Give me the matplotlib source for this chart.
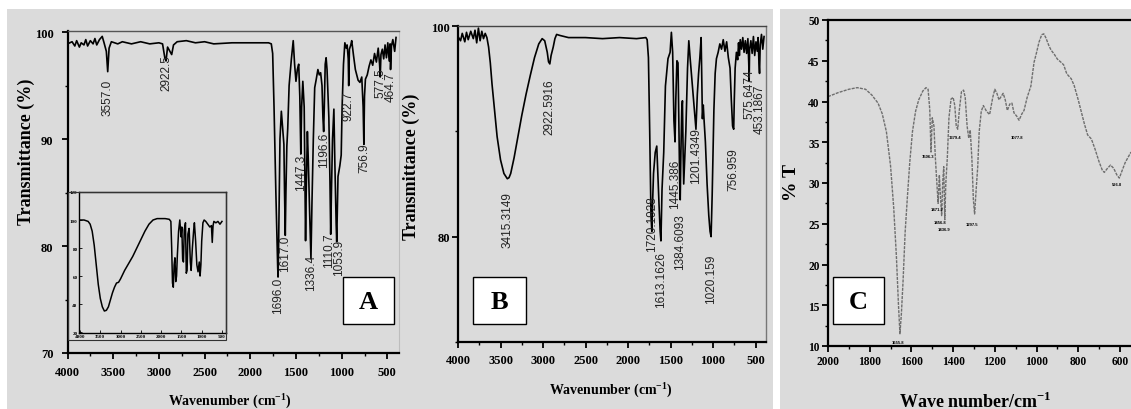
import matplotlib
matplotlib.use("Agg")
import matplotlib.pyplot as plt
from matplotlib.patches import Rectangle
from matplotlib.ticker import MultipleLocator

plt.rcParams['mathtext.fontset'] = 'custom'
plt.rcParams['mathtext.rm'] = 'Liberation Serif:bold'
plt.rcParams['mathtext.bf'] = 'Liberation Serif:bold'

# ---------------- data ----------------
# Panel A : main spectrum
a_wn = [4000, 3950, 3920, 3900, 3870, 3850, 3820, 3800, 3780, 3750, 3720, 3700, 3680, 3650, 3620,
        3600, 3575, 3560, 3545, 3520, 3450, 3400, 3300, 3200, 3100, 3000, 2960, 2935, 2922, 2905,
        2880, 2860, 2840, 2800, 2700, 2600, 2500, 2400, 2200, 2000, 1800, 1770, 1755, 1740, 1720,
        1700, 1696, 1690, 1675, 1660, 1645, 1632, 1625, 1617, 1610, 1600, 1590, 1575, 1550, 1530,
        1515, 1500, 1485, 1470, 1458, 1447, 1438, 1425, 1410, 1400, 1395, 1388, 1375, 1365, 1350,
        1336, 1325, 1310, 1295, 1280, 1260, 1245, 1230, 1215, 1205, 1197, 1190, 1180, 1170, 1160,
        1140, 1128, 1120, 1112, 1100, 1085, 1075, 1060, 1054, 1048, 1040, 1020, 1005, 995, 980,
        965, 950, 940, 928, 923, 915, 900, 890, 870, 850, 820, 800, 780, 765, 757, 750, 740, 720,
        700, 680, 660, 640, 620, 600, 585, 578, 570, 555, 540, 525, 510, 495, 480, 470, 465, 455,
        440, 420, 405]
a_t = [98.9, 99.1, 98.7, 99.2, 98.6, 99.0, 98.8, 99.3, 98.7, 99.2, 98.9, 99.4, 98.8, 99.3, 99.6,
       99.0, 98.2, 96.3, 98.5, 99.1, 98.9, 99.1, 98.9, 99.1, 98.9, 99.0, 98.9, 97.6, 97.3, 98.6,
       98.2, 97.9, 98.8, 99.1, 99.2, 99.0, 99.1, 98.9, 99.0, 99.0, 99.0, 98.9, 98.0, 93.0, 85.0,
       78.0, 77.1, 80.0, 90.0, 92.6, 91.0, 89.5, 85.0, 81.0, 85.0, 89.3, 91.0, 95.0, 97.5, 99.2,
       97.0, 95.4, 96.5, 97.0, 94.0, 88.6, 93.0, 95.4, 93.0, 85.0, 80.5, 85.0, 90.7, 88.0, 83.0,
       78.8, 84.0, 90.0, 94.8, 95.5, 96.5, 96.0, 96.2, 95.0, 92.0, 90.7, 93.0, 97.0, 97.6, 96.5,
       92.0, 86.0, 81.1, 85.0, 90.0, 92.8, 88.0, 82.0, 80.4, 83.0, 86.5, 87.5, 88.5, 93.0, 97.0,
       99.0, 98.5, 98.8, 97.5, 95.0, 98.4, 98.8, 99.2, 97.8, 96.5, 95.5, 95.3, 95.8, 93.0, 89.5,
       94.0, 95.6, 96.0, 96.8, 97.4, 96.9, 98.0, 97.2, 98.5, 97.0, 95.8, 97.9, 98.4, 97.5, 98.8,
       97.6, 99.0, 97.3, 98.9, 96.5, 98.7, 99.3, 98.2, 99.5]
a_labels = ["3557.0", "2922.5", "1696.0", "1617.0", "1447.3", "1336.4", "1196.6", "1110.7",
            "1053.9", "922.7", "756.9", "577.5", "464.7"]
a_label_wn = [3557.0, 2922.5, 1696.0, 1617.0, 1447.3, 1336.4, 1196.6, 1142.0,
              1030.0, 922.7, 756.9, 577.5, 464.7]
a_label_t = [95.6, 97.9, 77.1, 81.1, 88.6, 79.3, 90.7, 81.3, 80.7, 94.5, 89.7, 96.7, 96.3]

# Panel A : inset spectrum
in_wn = [4000, 3900, 3800, 3750, 3700, 3650, 3600, 3550, 3500, 3450, 3400, 3350, 3300, 3250, 3200,
         3150, 3100, 3050, 3000, 2950, 2900, 2800, 2700, 2600, 2500, 2400, 2300, 2200, 2100, 1900,
         1800, 1760, 1740, 1720, 1700, 1680, 1660, 1640, 1620, 1600, 1570, 1540, 1510, 1490, 1470,
         1450, 1430, 1400, 1380, 1360, 1340, 1310, 1280, 1260, 1230, 1200, 1180, 1150, 1120, 1090,
         1060, 1040, 1020, 1000, 970, 940, 900, 850, 800, 760, 740, 720, 700, 650, 600, 550, 500]
in_t = [100, 100, 99, 97, 92, 82, 68, 54, 44, 38, 35, 35.5, 38, 43, 48,
        52, 55, 55.5, 58, 61, 64, 69, 74, 80, 86, 92, 97, 100, 101, 101,
        100.5, 99, 80, 55, 52, 68, 73, 56, 60, 75, 92, 100, 88, 95, 72,
        70, 93, 98, 62, 64, 90, 94, 70, 64, 80, 92, 98, 85, 68, 63,
        70, 60, 68, 85, 98, 100, 99, 97, 95, 96, 84, 96, 99, 98, 99, 97, 99]

# Panel B
b_wn = [4000, 3970, 3950, 3920, 3900, 3880, 3850, 3820, 3800, 3780, 3760, 3740, 3720, 3700, 3680,
        3660, 3640, 3620, 3600, 3570, 3540, 3500, 3460, 3420, 3400, 3380, 3340, 3300, 3250, 3200,
        3150, 3100, 3050, 3010, 2980, 2950, 2935, 2920, 2905, 2880, 2860, 2840, 2800, 2700, 2500,
        2300, 2100, 1900, 1790, 1775, 1760, 1745, 1730, 1720, 1712, 1700, 1680, 1662, 1650, 1635,
        1622, 1613, 1600, 1580, 1560, 1530, 1505, 1490, 1475, 1460, 1447, 1438, 1425, 1412, 1400,
        1392, 1386, 1378, 1368, 1360, 1352, 1345, 1335, 1320, 1300, 1285, 1270, 1240, 1215, 1201,
        1185, 1170, 1155, 1140, 1132, 1125, 1115, 1105, 1090, 1070, 1050, 1035, 1023, 1010, 1000,
        990, 975, 960, 940, 920, 900, 880, 860, 840, 820, 800, 785, 770, 757, 750, 740, 725, 710,
        700, 690, 680, 665, 650, 635, 620, 605, 590, 580, 575, 570, 555, 540, 525, 510, 495, 480,
        470, 460, 453, 445, 430, 415, 400]
b_t = [99.0, 98.6, 99.3, 98.5, 99.4, 98.7, 99.5, 98.8, 99.6, 98.4, 99.8, 98.6, 99.5, 98.8, 99.3,
       98.9, 98.0, 96.5, 94.5, 92.0, 89.5, 87.3, 86.0, 85.5, 85.6, 86.0, 87.5, 89.3, 91.5, 93.5,
       95.3, 97.0, 98.3, 98.8, 98.6, 97.5, 96.6, 96.4, 97.2, 98.0, 98.8, 99.2, 99.1, 98.9, 98.9,
       98.8, 98.9, 98.8, 98.9, 98.7, 97.0, 90.0, 82.0, 80.5, 83.0, 86.0, 88.0, 88.6, 86.0, 83.0,
       80.5, 79.6, 84.5, 88.0, 94.3, 96.9, 97.5, 99.4, 97.5, 91.0, 89.0, 93.0, 96.7, 96.5, 90.0,
       85.0, 83.5, 88.0, 92.0, 92.9, 88.0, 85.0, 87.0, 90.0, 96.0, 98.6, 97.0, 94.0, 91.5, 90.2,
       93.5, 95.5, 97.0, 98.9, 95.0, 91.2, 92.5, 91.0, 89.0, 85.0, 82.0, 80.5, 80.0, 84.0, 88.0,
       92.0, 95.5, 96.9, 97.5, 98.3, 97.8, 98.7, 97.6, 98.5, 97.0, 96.0, 93.0, 90.5, 90.2, 93.0,
       96.0, 97.5, 96.8, 98.4, 97.2, 98.7, 97.8, 98.9, 97.5, 98.6, 97.4, 98.8, 96.5, 94.8, 97.8,
       98.6, 97.4, 99.0, 97.2, 98.5, 97.6, 98.9, 96.5, 95.5, 98.2, 99.2, 97.8, 99.0]
b_labels = ["3415.3149", "2922.5916", "1720.1928", "1613.1626", "1445.386", "1384.6093",
            "1201.4349", "1020.159", "756.959", "575.6474", "453.1867"]
b_label_wn = [3415.3, 2922.6, 1720.2, 1613.2, 1445.4, 1384.6, 1201.4, 1020.2, 756.96, 575.6, 453.2]
b_label_t = [84.3, 95.0, 83.9, 78.6, 87.4, 82.2, 90.4, 78.4, 88.5, 96.0, 94.5]

# Panel C
c_wn = [2000, 1950, 1900, 1860, 1820, 1790, 1760, 1740, 1720, 1700, 1685, 1672, 1662, 1655, 1648,
        1640, 1630, 1620, 1608, 1595, 1580, 1565, 1545, 1530, 1520, 1512, 1506, 1500, 1492, 1485,
        1478, 1472, 1466, 1460, 1455, 1450, 1445, 1440, 1435, 1428, 1420, 1410, 1400, 1392, 1385,
        1378, 1370, 1360, 1350, 1342, 1333, 1325, 1318, 1310, 1303, 1297, 1290, 1282, 1275, 1265,
        1255, 1240, 1225, 1210, 1200, 1190, 1180, 1170, 1160, 1150, 1140, 1128, 1118, 1108, 1095,
        1084, 1070, 1060, 1045, 1027, 1012, 1000, 988, 975, 965, 955, 940, 930, 915, 900, 882, 870,
        855, 834, 820, 800, 785, 770, 755, 737, 720, 700, 685, 675, 660, 645, 630, 615, 603, 590,
        575, 560, 547]
c_t = [40.6, 41.1, 41.5, 41.7, 41.5, 40.8, 39.8, 38.5, 36.3, 32.1, 27.0, 21.0, 15.0, 11.5, 14.0,
       18.0, 24.0, 28.0, 32.5, 36.3, 38.8, 40.2, 41.3, 41.7, 41.5, 39.0, 33.8, 38.0, 37.0, 33.0,
       30.0, 27.5, 31.0, 28.0, 26.0, 30.0, 32.0, 25.5, 30.0, 33.0, 38.0, 40.3, 40.5, 39.5, 37.0,
       36.6, 39.0, 41.2, 41.4, 40.5, 37.0, 35.5, 36.5, 33.0, 28.0, 26.2, 29.0, 32.0, 36.3, 38.8,
       39.5, 38.8, 38.4, 40.5, 41.5, 41.0, 40.2, 40.6, 41.0, 40.2, 38.9, 39.7, 39.8, 38.6, 38.2,
       37.7, 38.5, 38.9, 40.5, 41.9, 44.8, 46.0, 47.3, 48.2, 48.3, 47.8, 46.8, 46.3, 45.8, 45.2,
       44.8, 44.5, 43.4, 42.8, 42.0, 40.2, 38.7, 37.2, 35.9, 35.4, 34.2, 32.6, 31.6, 31.3, 31.8,
       32.2, 31.8, 31.0, 30.6, 31.5, 32.5, 33.2, 33.8]
c_labels = ["1655.8", "1506.3", "1471.2", "1456.8", "1436.9", "1379.4", "1297.5", "1077.8", "596.8"]
c_label_wn = [1664, 1521, 1477, 1463, 1444, 1391, 1310, 1094, 614]
c_label_t = [10.5, 33.3, 26.8, 25.2, 24.4, 35.6, 25.0, 35.6, 29.9]

# ---------------- layout ----------------
W, H = 1131, 410
fig = plt.figure(figsize=(W / 100, H / 100), dpi=100)
fig.patch.set_facecolor('white')
GRAY = '#dbdbdb'


def frac_rect(l, t, r, b):
    return [l / W, 1 - b / H, (r - l) / W, (b - t) / H]


def fx(x):
    return x / W


def fy(y):
    return 1 - y / H


# gray backgrounds (behind everything)
fig.patches.append(Rectangle((fx(7), 0), fx(773) - fx(7), fy(10), transform=fig.transFigure,
                             facecolor=GRAY, edgecolor='none', zorder=-10))
fig.patches.append(Rectangle((fx(780), 0), fx(1131) - fx(780), fy(10), transform=fig.transFigure,
                             facecolor=GRAY, edgecolor='none', zorder=-10))

SERIF = 'Liberation Serif'
SANS = 'Liberation Sans'


def style_axes(ax, top_c, right_c, right_lw=0.8, xpad=2.0, ypad=2.0, lsize=8.5):
    ax.set_facecolor('none')
    ax.spines['left'].set_linewidth(1.6)
    ax.spines['bottom'].set_linewidth(1.6)
    ax.spines['top'].set_color(top_c)
    ax.spines['top'].set_linewidth(1.0)
    ax.spines['right'].set_color(right_c)
    ax.spines['right'].set_linewidth(right_lw)
    ax.tick_params(which='major', direction='out', length=4, width=1.3, labelsize=lsize)
    ax.tick_params(axis='x', which='major', pad=xpad)
    ax.tick_params(axis='y', which='major', pad=ypad)
    ax.tick_params(which='minor', direction='out', length=2.5, width=1.0)
    ax.tick_params(top=False, right=False)
    for lab in ax.get_xticklabels() + ax.get_yticklabels():
        lab.set_fontfamily(SERIF)
        lab.set_fontweight('bold')


# ---- Panel A ----
axA = fig.add_axes(frac_rect(67.5, 31.5, 398.5, 354))
axA.set_zorder(1)
axA.plot(a_wn, a_t, color='black', lw=1.2)
axA.set_xlim(4000, 378)
axA.set_ylim(70, 100.15)
axA.xaxis.set_major_locator(MultipleLocator(500))
axA.xaxis.set_minor_locator(MultipleLocator(250))
axA.yaxis.set_major_locator(MultipleLocator(10))
axA.yaxis.set_minor_locator(MultipleLocator(5))
style_axes(axA, '#555555', '#bdbdbd', xpad=5.5, ypad=6.0, lsize=9)
for s, w, t in zip(a_labels, a_label_wn, a_label_t):
    axA.text(w, t, s, rotation=90, ha='center', va='top', fontsize=8.5, family=SANS,
             color='#222222', clip_on=False)

# inset
axI = fig.add_axes(frac_rect(79, 193, 226, 334))
axI.set_zorder(2)
axI.plot(in_wn, in_t, color='black', lw=1.1)
axI.set_xlim(4025, 401)
axI.set_ylim(19.3, 120)
axI.set_facecolor(GRAY)
axI.xaxis.set_major_locator(MultipleLocator(500))
axI.yaxis.set_major_locator(MultipleLocator(20))
for sp in axI.spines.values():
    sp.set_linewidth(1.0)
axI.tick_params(direction='in', length=2, width=0.6, labelsize=3.6, pad=1)
for lab in axI.get_xticklabels() + axI.get_yticklabels():
    lab.set_fontfamily(SERIF)
    lab.set_fontweight('bold')
fig.patches.append(Rectangle((fx(67.5), fy(341)), fx(226) - fx(67.5), fy(193) - fy(341),
                             transform=fig.transFigure, facecolor='none', edgecolor='#333333',
                             lw=0.8, zorder=3))

# ---- Panel B ----
axB = fig.add_axes(frac_rect(458, 27, 766, 343))
axB.set_zorder(1)
axB.plot(b_wn, b_t, color='black', lw=1.2)
axB.set_xlim(4000, 377)
axB.set_ylim(70, 100)
axB.xaxis.set_major_locator(MultipleLocator(500))
axB.xaxis.set_minor_locator(MultipleLocator(250))
axB.yaxis.set_major_locator(MultipleLocator(20))
axB.yaxis.set_minor_locator(MultipleLocator(10))
style_axes(axB, '#444444', '#777777', 1.0, xpad=4.5, ypad=2.0, lsize=9)
for s, w, t in zip(b_labels, b_label_wn, b_label_t):
    axB.text(w, t, s, rotation=90, ha='center', va='top', fontsize=8.5, family=SANS,
             color='#222222', clip_on=False)

# ---- Panel C ----
axC = fig.add_axes(frac_rect(828, 21, 1131, 347))
axC.set_zorder(1)
axC.plot(c_wn, c_t, color='#6e6e6e', lw=1.0, linestyle=(0, (2.2, 0.8)))
axC.set_xlim(2000, 547)
axC.set_ylim(10, 50)
axC.xaxis.set_major_locator(MultipleLocator(200))
axC.xaxis.set_minor_locator(MultipleLocator(100))
axC.yaxis.set_major_locator(MultipleLocator(5))
axC.yaxis.set_minor_locator(MultipleLocator(2.5))
style_axes(axC, 'black', 'black', xpad=2.5, ypad=2.0, lsize=8.3)
axC.spines['top'].set_linewidth(1.6)
axC.spines['right'].set_visible(False)
for s, w, t in zip(c_labels, c_label_wn, c_label_t):
    axC.text(w, t, s, ha='center', va='center', fontsize=3, family=SANS, fontweight='bold',
             color='black')

# ---- axis labels (figure text) ----
fig.text(fx(230), fy(401), r'Wavenumber (cm$^{\mathbf{-1}}$)', ha='center', va='center',
         fontsize=10, family=SERIF, fontweight='bold')
fig.text(fx(26), fy(152), 'Transmittance (%)', rotation=90, ha='center', va='center',
         fontsize=13, family=SERIF, fontweight='bold')
fig.text(fx(611), fy(390), r'Wavenumber (cm$^{\mathbf{-1}}$)', ha='center', va='center',
         fontsize=10, family=SERIF, fontweight='bold')
fig.text(fx(411), fy(167), 'Transmittance (%)', rotation=90, ha='center', va='center',
         fontsize=13, family=SERIF, fontweight='bold')
fig.text(fx(975), fy(402), r'Wave number/cm$^{\mathbf{-1}}$', ha='center', va='center',
         fontsize=13, family=SERIF, fontweight='bold')
fig.text(fx(791), fy(183), '% T', rotation=90, ha='center', va='center',
         fontsize=14, family=SERIF, fontweight='bold')

# ---- panel letter boxes ----
for l, t, r, b, letter in [(343, 278, 394, 325, 'A'), (473, 278, 526, 325, 'B'),
                           (833, 278, 884, 325, 'C')]:
    fig.patches.append(Rectangle((fx(l), fy(b)), fx(r) - fx(l), fy(t) - fy(b),
                                 transform=fig.transFigure, facecolor='white',
                                 edgecolor='black', lw=1.0, zorder=5))
    fig.text(fx((l + r) / 2), fy((t + b) / 2 + 1), letter, ha='center', va='center',
             fontsize=19, family=SERIF, fontweight='bold', zorder=6)

fig.savefig('out.png', dpi=100, facecolor=fig.get_facecolor())
